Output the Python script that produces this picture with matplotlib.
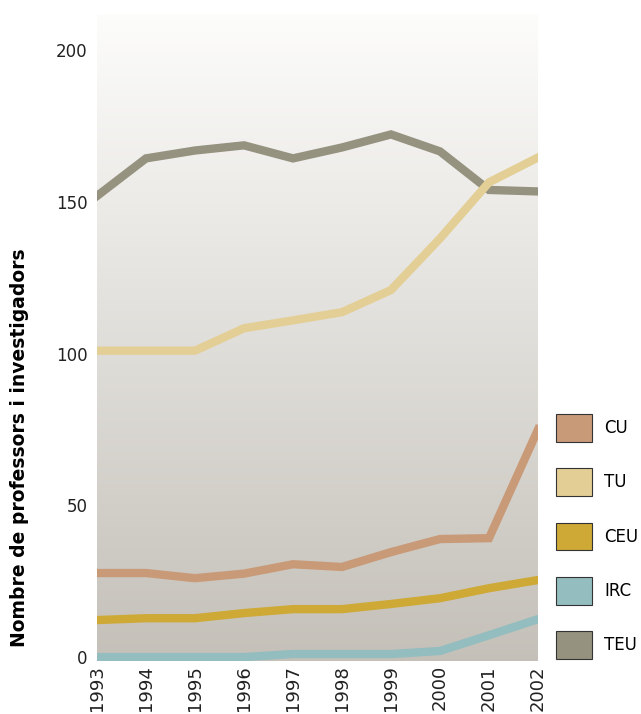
import matplotlib
matplotlib.use("Agg")
import matplotlib.pyplot as plt
import numpy as np
from matplotlib.patches import Patch

years = [1993, 1994, 1995, 1996, 1997, 1998, 1999, 2000, 2001, 2002]
teu = [152, 164.4, 167, 168.7, 164.4, 168, 172.3, 166.7, 154, 153.5]
tu = [101, 101, 101, 108.4, 111, 113.7, 121, 138, 156.5, 164.7]
cu = [27.7, 27.7, 26, 27.5, 30.6, 29.7, 34.6, 38.9, 39.2, 75]
ceu = [12.2, 12.8, 12.8, 14.5, 15.8, 15.8, 17.5, 19.4, 22.7, 25.4]
irc = [0, 0, 0, 0, 1, 1, 1, 2, 7.2, 12.5]

series = [("CU", cu, "#c99a78"),
          ("TU", tu, "#e3cf95"),
          ("CEU", ceu, "#cea935"),
          ("IRC", irc, "#93bdbe"),
          ("TEU", teu, "#95927f")]

fig = plt.figure(figsize=(6.41, 7.14), dpi=100)
ax = fig.add_axes([97/641, 1-661/714, 441/641, 647/714])

ylo, yhi = -1.3, 212
# background gradient
top = np.array([0.99, 0.99, 0.985])
bot = np.array([0.77, 0.755, 0.725])
t = np.linspace(0, 1, 256)[:, None, None]
grad = top * (1 - t) + bot * t
ax.imshow(grad, extent=[years[0], years[-1], ylo, yhi], aspect="auto", zorder=0)

# draw order: TEU first so TU crosses over it
for name, vals, col in [series[4], series[1], series[0], series[2], series[3]]:
    ax.plot(years, vals, color=col, lw=6, solid_joinstyle="miter", zorder=2)

ax.set_xlim(years[0], years[-1])
ax.set_ylim(ylo, yhi)
ax.set_yticks([0, 50, 100, 150, 200])
ax.set_xticks(years)
ax.set_xticklabels([str(y) for y in years], rotation=90, va="top")
ax.tick_params(length=0, labelsize=12, colors="#222222")
ax.tick_params(axis="x", labelsize=13, pad=3)
ax.tick_params(axis="y", pad=7)
for s in ax.spines.values():
    s.set_visible(False)

ax.set_ylabel("Nombre de professors i investigadors", fontsize=13.5, fontweight="bold")
ax.yaxis.set_label_coords(-0.155, 0.33)

handles = [Patch(facecolor=c, edgecolor="#333333", linewidth=0.8, label=n) for n, v, c in series]
fig.legend(handles=handles, loc="upper left", bbox_to_anchor=(556/641, 1-414/714),
           frameon=False, fontsize=12, handlelength=2.15, handleheight=2.2,
           labelspacing=1.58, handletextpad=0.75, borderpad=0, borderaxespad=0)

fig.savefig("out.png", dpi=100)
